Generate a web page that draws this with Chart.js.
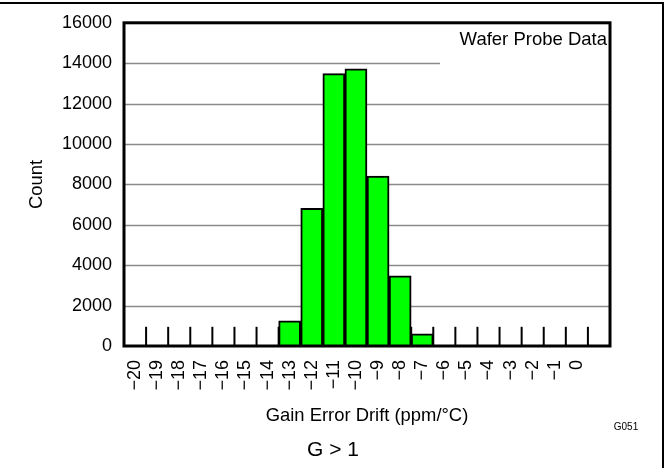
<!DOCTYPE html>
<html>
<head>
<meta charset="utf-8">
<script src="https://cdn.jsdelivr.net/npm/chart.js@4"></script>
<style>
  body { margin: 0; background: #fff; }
  #wrap { position: relative; width: 669px; height: 468px; }
  #frame { position: absolute; left: 0; top: 2px; width: 662px; height: 470px;
           border-top: 2px solid #000; border-right: 2px solid #000; pointer-events: none; }
  canvas { position: absolute; left: 0; top: 0; }
</style>
</head>
<body>
<div id="wrap">
  <canvas id="chart" width="669" height="468"></canvas>
  <div id="frame"></div>
</div>
<script>
// --- Daten ---
const binLabels = ["−20","−19","−18","−17","−16","−15","−14","−13","−12","−11","−10",
                   "−9","−8","−7","−6","−5","−4","−3","−2","−1","0",""];
const counts = [0,0,0,0,0,0,30,1250,6820,13480,13720,8410,3470,600,0,0,0,0,0,0,0,null];
const yTicks = [0,2000,4000,6000,8000,10000,12000,14000,16000];
const binTickHeight = 950;   // kurze Markierungen zwischen den Klassen
const FONT = "'Liberation Sans', Arial, Helvetica, sans-serif";

// --- Plugin: Gitterlinien, Klassenmarken, Rahmen, Zusatztexte ---
const decoPlugin = {
  id: 'decoPlugin',
  beforeDatasetsDraw(chart) {
    const {ctx, chartArea: a, scales: {x, y}} = chart;
    ctx.save();
    // horizontale Gitterlinien (14000 endet vor dem Text)
    ctx.strokeStyle = '#8a8a8a';
    ctx.lineWidth = 1.5;
    yTicks.forEach(v => {
      if (v === 0 || v === 16000) return;
      const py = Math.round(y.getPixelForValue(v)) + 0.5;
      const xEnd = v === 14000 ? 440 : a.right;
      ctx.beginPath(); ctx.moveTo(a.left, py); ctx.lineTo(xEnd, py); ctx.stroke();
    });
    // kurze senkrechte Marken an den Klassengrenzen
    ctx.strokeStyle = '#000';
    ctx.lineWidth = 2;
    const y0 = y.getPixelForValue(0), y1 = y.getPixelForValue(binTickHeight);
    for (let i = 1; i < binLabels.length; i++) {
      const px = (x.getPixelForValue(i - 1) + x.getPixelForValue(i)) / 2;
      ctx.beginPath(); ctx.moveTo(px, y0); ctx.lineTo(px, y1); ctx.stroke();
    }
    ctx.restore();
  },
  afterDatasetsDraw(chart) {
    const {ctx, chartArea: a} = chart;
    ctx.save();
    ctx.strokeStyle = '#000';
    ctx.lineWidth = 3;
    ctx.strokeRect(a.left, a.top, a.right - a.left, a.bottom - a.top);

    ctx.fillStyle = '#000';
    ctx.textBaseline = 'middle';
    ctx.font = `18.5px ${FONT}`;
    ctx.textAlign = 'right';
    ctx.fillText('Wafer Probe Data', 607, 40);

    ctx.font = `10px ${FONT}`;
    ctx.textAlign = 'center';
    ctx.fillText('G051', 626, 427);

    ctx.font = `21px ${FONT}`;
    ctx.fillText('G > 1', 333, 450);
    ctx.restore();
  }
};

new Chart(document.getElementById('chart'), {
  type: 'bar',
  data: {
    labels: binLabels,
    datasets: [{
      data: counts,
      backgroundColor: '#00ff00',
      borderColor: '#000',
      borderWidth: 2,
      barPercentage: 1,
      categoryPercentage: 1
    }]
  },
  options: {
    responsive: false,
    animation: false,
    layout: { padding: { top: 18, right: 59, left: 0, bottom: 0 } },
    plugins: { legend: { display: false }, tooltip: { enabled: false } },
    scales: {
      x: {
        grid: { display: false, drawTicks: false },
        border: { display: false },
        ticks: {
          minRotation: 90, maxRotation: 90, autoSkip: false, padding: 14,
          color: '#000', font: { family: FONT, size: 18 }
        },
        title: {
          display: true, text: 'Gain Error Drift (ppm/°C)', color: '#000',
          font: { family: FONT, size: 18.4 }, padding: { top: 0, bottom: 41 }
        },
        afterFit(scale) { scale.height = 122; }
      },
      y: {
        min: 0, max: 16000,
        grid: { display: false, drawTicks: false },
        border: { display: false },
        afterBuildTicks(scale) { scale.ticks = yTicks.map(v => ({ value: v })); },
        ticks: {
          padding: 12, color: '#000', font: { family: FONT, size: 18 },
          callback: (v) => String(v)
        },
        title: {
          display: true, text: 'Count', color: '#000',
          font: { family: FONT, size: 18.4 }, padding: { top: 26, bottom: 0 }
        },
        afterFit(scale) { scale.width = 124; }
      }
    }
  },
  plugins: [decoPlugin]
});
</script>
</body>
</html>
